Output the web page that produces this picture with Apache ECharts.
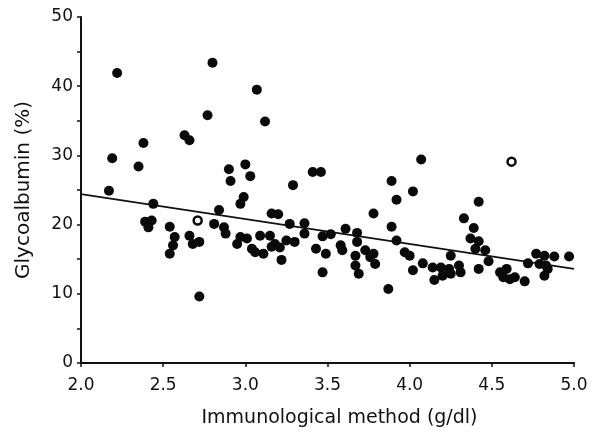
<!DOCTYPE html>
<html><head><meta charset="utf-8">
<script src="https://cdn.jsdelivr.net/npm/echarts/dist/echarts.min.js"></script>
<style>html,body{margin:0;padding:0;background:#fff}#c{width:599px;height:434px}</style>
</head><body><div id="c"></div>
<script>
// Immunological method (g/dl) values of filled points
const solidX = [2.22,2.80,3.07,2.77,3.12,2.63,2.66,2.38,2.19,2.35,2.90,3.00,3.03,2.91,2.17,2.44,2.99,2.97,2.84,3.16,3.20,2.39,2.43,2.41,2.81,2.87,2.88,2.54,2.57,2.56,2.54,2.66,2.68,2.72,2.72,3.27,3.36,3.36,2.95,2.97,3.01,3.09,3.15,3.18,3.06,3.11,3.04,3.16,3.21,3.25,3.30,3.22,3.43,
  4.07,3.41,3.46,3.29,3.89,4.02,3.92,3.78,4.33,3.89,3.47,3.52,3.61,3.68,3.68,3.92,3.49,3.58,3.59,3.47,3.67,3.73,3.78,3.76,3.67,3.69,3.79,3.87,3.97,4.00,4.02,4.08,4.25,4.14,4.19,4.24,4.30,4.31,4.15,4.20,4.25,
  4.42,4.39,4.37,4.42,4.40,4.46,4.48,4.42,4.55,4.59,4.57,4.61,4.64,4.70,4.72,4.77,4.82,4.88,4.79,4.83,4.84,4.82,4.97];
// Glycoalbumin (%) values of filled points
const solidY = [41.9,43.4,39.5,35.8,34.9,32.9,32.2,31.8,29.6,28.4,28.0,28.7,27.0,26.3,24.9,23.0,24.0,23.0,22.1,21.6,21.5,20.4,20.6,19.6,20.1,19.6,18.7,19.7,18.2,17.0,15.8,18.4,17.2,17.5,9.6,20.1,20.2,18.7,17.2,18.2,18.0,18.4,18.4,17.2,16.0,15.8,16.5,16.8,16.7,17.7,17.5,14.9,16.5,
  29.4,27.6,27.6,25.7,26.3,24.8,23.6,21.6,20.9,19.7,18.3,18.6,19.4,18.8,17.5,17.7,15.8,17.0,16.3,13.1,15.5,16.3,15.8,15.3,14.1,12.9,14.3,10.7,16.0,15.5,13.4,14.4,15.5,13.8,13.8,13.6,14.1,13.1,12.0,12.6,12.9,
  23.3,19.5,18.0,17.6,16.5,16.3,14.7,13.6,13.1,13.6,12.4,12.1,12.4,11.8,14.4,15.8,15.5,15.4,14.3,14.1,13.6,12.6,15.4];
// open (ring) points
const openX = [2.71, 4.62];
const openY = [20.6, 29.1];
// regression line end points
const fitX = [2.0, 5.0];
const fitY = [24.4, 13.6];
// axes
const xTicks = [2.0, 2.5, 3.0, 3.5, 4.0, 4.5, 5.0];
const yTicks = [0, 10, 20, 30, 40, 50];

const ink = '#111';
const chart = echarts.init(document.getElementById('c'));
chart.setOption({
  backgroundColor: '#fff',
  animation: false,
  grid: { left: 81, right: 25, top: 17, bottom: 71 },
  xAxis: {
    type: 'value', min: xTicks[0], max: xTicks[xTicks.length - 1], interval: 0.5,
    name: 'Immunological method (g/dl)', nameLocation: 'middle', nameGap: 46,
    nameTextStyle: { fontFamily: 'DejaVu Sans', fontSize: 19, color: ink, padding: [0, 0, 0, 24] },
    axisLine: { lineStyle: { color: ink, width: 2 } },
    axisTick: { show: true, length: 4, lineStyle: { color: ink, width: 1.5 } },
    axisLabel: { fontFamily: 'DejaVu Sans', fontSize: 17, color: ink, margin: 14,
      formatter: v => v.toFixed(1) },
    splitLine: { show: false }
  },
  yAxis: {
    type: 'value', min: yTicks[0], max: yTicks[yTicks.length - 1], interval: 10,
    name: 'Glycoalbumin (%)', nameLocation: 'middle', nameGap: 47, nameRotate: 90,
    nameTextStyle: { fontFamily: 'DejaVu Sans', fontSize: 20, color: ink },
    axisLine: { show: true, lineStyle: { color: ink, width: 2 } },
    axisTick: { show: true, length: 4, lineStyle: { color: ink, width: 1.5 } },
    minorTick: { show: true, splitNumber: 2, length: 4, lineStyle: { color: ink, width: 1.5 } },
    axisLabel: { fontFamily: 'DejaVu Sans', fontSize: 17, color: ink, margin: 8 },
    splitLine: { show: false }
  },
  series: [
    { type: 'line', data: fitX.map((x, i) => [x, fitY[i]]), symbol: 'none',
      lineStyle: { color: ink, width: 1.6 }, z: 1 },
    { type: 'scatter', data: solidX.map((x, i) => [x, solidY[i]]), symbolSize: 10,
      itemStyle: { color: '#0a0a0a', opacity: 1 }, z: 2 },
    { type: 'scatter', data: openX.map((x, i) => [x, openY[i]]), symbolSize: 8,
      itemStyle: { color: '#fff', borderColor: '#0a0a0a', borderWidth: 2.5, opacity: 1 }, z: 3 }
  ]
});
</script></body></html>
